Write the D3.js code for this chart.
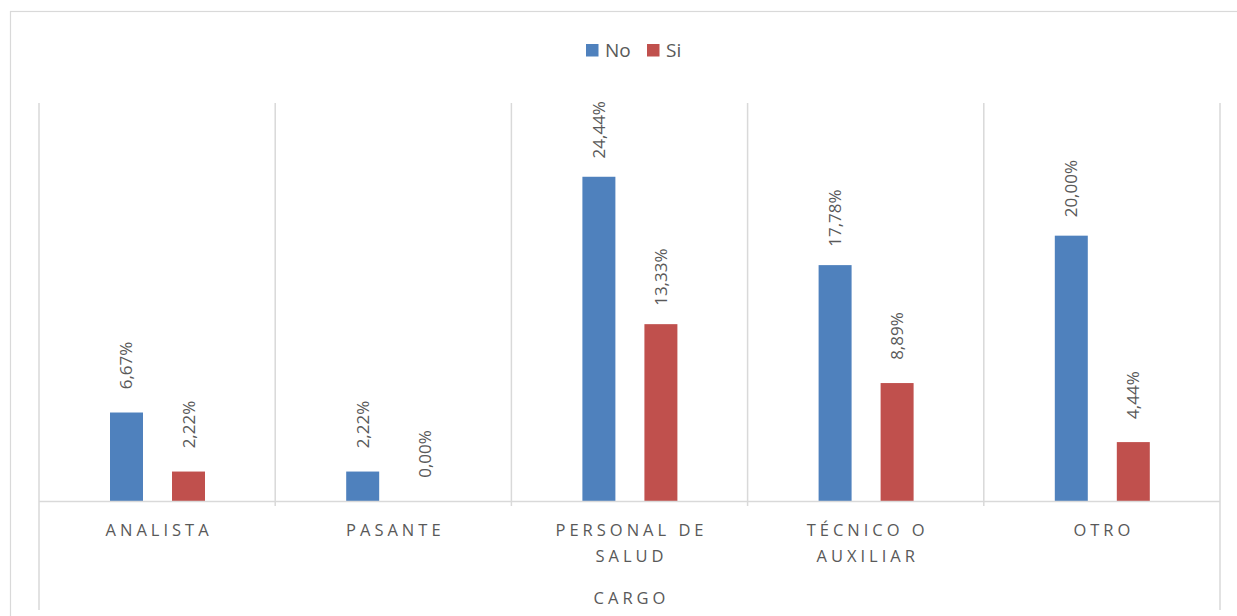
<!DOCTYPE html>
<html><head><meta charset="utf-8">
<script src="https://cdn.jsdelivr.net/npm/d3@7"></script>
<style>body{margin:0;background:#fff}text{font-family:"Open Sans",sans-serif}</style>
</head><body><svg id="c" width="1237" height="616"></svg>
<script>
const categories = [["ANALISTA"],["PASANTE"],["PERSONAL DE","SALUD"],["TÉCNICO O","AUXILIAR"],["OTRO"]];
const seriesNames = ["No","Si"];
const noValues = [6.67, 2.22, 24.44, 17.78, 20.00];
const siValues = [2.22, 0.00, 13.33, 8.89, 4.44];
const colors = ["#4F81BD","#C0504D"];
const axisTitle = "CARGO";

const svg = d3.select("#c");
const L=39, R=1220, T=103, B=501;
svg.append("rect").attr("x",10.5).attr("y",11.5).attr("width",1240).attr("height",620).attr("fill","none").attr("stroke","#d9d9d9").attr("stroke-width",1.2);

const x = d3.scaleBand().domain(d3.range(categories.length)).range([L,R]);
const xs = d3.scaleBand().domain([0,1]).range([71,166]).paddingInner(0.468).paddingOuter(0);
const y = d3.scaleLinear().domain([0,30]).range([B,T]);

const seps = d3.range(categories.length+1);
const sx = i=>i===categories.length?R:x(i);
svg.selectAll("line.sep").data(seps).join("line")
  .attr("x1",sx).attr("x2",sx)
  .attr("y1",T).attr("y2",i=>(i===0||i===categories.length)?610:506)
  .attr("stroke","#d9d9d9").attr("stroke-width",1.5);

const data = [];
categories.forEach((c,i)=>{data.push({i,s:0,v:noValues[i]});data.push({i,s:1,v:siValues[i]});});
svg.selectAll("rect.bar").data(data).join("rect")
  .attr("x",d=>x(d.i)+xs(d.s)).attr("width",xs.bandwidth())
  .attr("y",d=>y(d.v)).attr("height",d=>B-y(d.v)).attr("fill",d=>colors[d.s]);

svg.append("line").attr("x1",L).attr("x2",R).attr("y1",B+0.5).attr("y2",B+0.5).attr("stroke","#d9d9d9").attr("stroke-width",1.5);

const fmt = v=>v.toFixed(2).replace(".",",")+"%";
svg.selectAll("text.lbl").data(data).join("text")
  .attr("transform",d=>`translate(${x(d.i)+xs(d.s)+xs.bandwidth()/2+6},${y(d.v)-47}) rotate(-90)`)
  .attr("text-anchor","middle")
  .attr("font-size",17).attr("fill","#595959").text(d=>fmt(d.v));

categories.forEach((c,i)=>{
  const cx = x(i)+x.bandwidth()/2+2;
  const t = svg.append("text").attr("y",536).attr("text-anchor","middle")
    .attr("font-size",16.5).attr("fill","#595959").attr("letter-spacing","4px");
  c.forEach((ln,j)=>t.append("tspan").attr("x",cx).attr("dy",j?26:0).text(ln));
});
svg.append("text").attr("x",(L+R)/2+2).attr("y",604).attr("text-anchor","middle").attr("font-size",16.5)
  .attr("fill","#595959").attr("letter-spacing","4px").text(axisTitle);

const lg = svg.append("g");
const lx=[586,647];
seriesNames.forEach((n,k)=>{
  lg.append("rect").attr("x",lx[k]).attr("y",44).attr("width",12.5).attr("height",12.5).attr("fill",colors[k]);
  lg.append("text").attr("x",lx[k]+19).attr("y",56.5).attr("font-size",19).attr("fill","#595959").text(n);
});
</script></body></html>
